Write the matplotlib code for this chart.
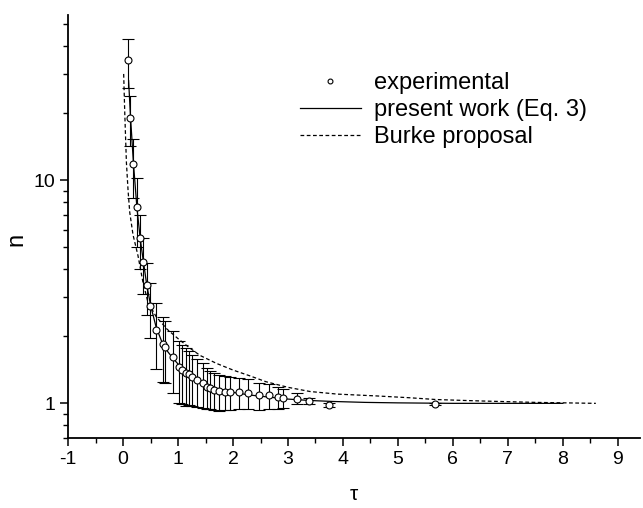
import matplotlib
matplotlib.use("Agg")
import matplotlib.pyplot as plt
from matplotlib.ticker import LogLocator, FixedLocator, NullFormatter, MultipleLocator

plt.rcParams['font.family'] = ['Liberation Sans', 'DejaVu Sans']
plt.rcParams['axes.unicode_minus'] = False

# experimental points
tau_exp = [0.085, 0.133, 0.187, 0.248, 0.309, 0.369, 0.43, 0.49, 0.60, 0.72, 0.77,
           0.90, 1.02, 1.08, 1.14, 1.20, 1.26, 1.34, 1.45, 1.52, 1.58, 1.66, 1.75,
           1.85, 1.95, 2.11, 2.28, 2.47, 2.66, 2.81, 2.90, 3.17, 3.38, 3.75, 5.68]
n_exp = [34.5, 19.1, 11.8, 7.6, 5.5, 4.3, 3.38, 2.72, 2.13, 1.85, 1.79,
         1.61, 1.45, 1.41, 1.37, 1.35, 1.31, 1.27, 1.23, 1.19, 1.17, 1.15, 1.135,
         1.13, 1.12, 1.12, 1.11, 1.086, 1.086, 1.067, 1.056, 1.05, 1.024, 0.98, 0.99]
n_err = [8.5, 4.8, 3.5, 2.6, 1.5, 1.2, 0.9, 0.75, 0.7, 0.6, 0.55,
         0.5, 0.45, 0.42, 0.4, 0.37, 0.34, 0.31, 0.28, 0.25, 0.23, 0.22, 0.21,
         0.2, 0.19, 0.18, 0.17, 0.15, 0.14, 0.12, 0.1, 0.06, 0.03, 0.02, 0.01]

# present work (Eq. 3)
tau_fit = [0.10, 0.133, 0.187, 0.25, 0.31, 0.37, 0.43, 0.5, 0.6, 0.7, 0.8, 0.9, 1.0,
           1.2, 1.4, 1.6, 1.8, 2.0, 2.3, 2.6, 3.0, 3.4, 3.8, 4.4, 5.0, 6.0, 7.0, 8.0]
n_fit = [28, 19.5, 12, 7.6, 5.5, 4.3, 3.4, 2.75, 2.2, 1.9, 1.72, 1.6, 1.5,
         1.36, 1.26, 1.19, 1.15, 1.12, 1.09, 1.07, 1.045, 1.03, 1.02, 1.01, 1.005, 1.0, 1.0, 1.0]

# Burke proposal
tau_burke = [0.01, 0.03, 0.06, 0.09, 0.12, 0.18, 0.27, 0.36, 0.45, 0.6, 0.8, 1.0, 1.2,
             1.4, 1.7, 2.0, 2.3, 2.6, 3.0, 3.4, 3.9, 4.6, 5.2, 5.7, 6.5, 7.5, 8.6]
n_burke = [30, 20, 12, 9, 7.2, 5.7, 4.6, 3.5, 2.85, 2.45, 2.15, 1.95, 1.78,
           1.64, 1.51, 1.41, 1.33, 1.25, 1.18, 1.13, 1.1, 1.08, 1.06, 1.04, 1.025, 1.01, 1.0]

fig = plt.figure(figsize=(6.43, 5.08), dpi=100)
ax = fig.add_axes([0.106, 0.138, 0.889, 0.832])

ax.errorbar(tau_exp, n_exp, yerr=n_err, fmt='none', ecolor='black',
            elinewidth=0.8, capsize=4, capthick=0.8)
ax.plot(tau_exp, n_exp, 'o', ms=5, mfc='white', mec='black', mew=0.8,
        label='experimental', zorder=5)
ax.plot(tau_fit, n_fit, '-', color='black', lw=0.9, label='present work (Eq. 3)')
ax.plot(tau_burke, n_burke, '--', color='black', lw=0.9, dashes=(3, 2),
        label='Burke proposal')

ax.set_yscale('log')
ax.set_xlim(-1, 9.4)
ax.set_ylim(0.7, 55)

ax.xaxis.set_major_locator(MultipleLocator(1))
ax.xaxis.set_minor_locator(MultipleLocator(0.5))
ax.yaxis.set_major_locator(FixedLocator([1, 10]))
ax.yaxis.set_major_formatter(plt.FixedFormatter(['1', '10']))
ax.yaxis.set_minor_locator(LogLocator(base=10, subs=range(2, 10)))
ax.yaxis.set_minor_formatter(NullFormatter())

for s in ['top', 'right']:
    ax.spines[s].set_visible(False)
for s in ['left', 'bottom']:
    ax.spines[s].set_linewidth(1.3)

ax.tick_params(which='major', direction='out', length=6, width=1.1, labelsize=14)
ax.tick_params(which='minor', direction='out', length=3.5, width=1.0)

ax.set_xlabel('τ', fontsize=15, labelpad=12)
ax.set_ylabel('n', fontsize=17)
ax.yaxis.set_label_coords(-0.072, 0.47)

leg = ax.legend(loc='upper left', bbox_to_anchor=(0.405, 0.866), frameon=False,
                fontsize=17, handlelength=2.6, handletextpad=0.55, markerscale=0.7,
                labelspacing=0.22, borderpad=0, borderaxespad=0)

plt.savefig('out.png', dpi=100)
